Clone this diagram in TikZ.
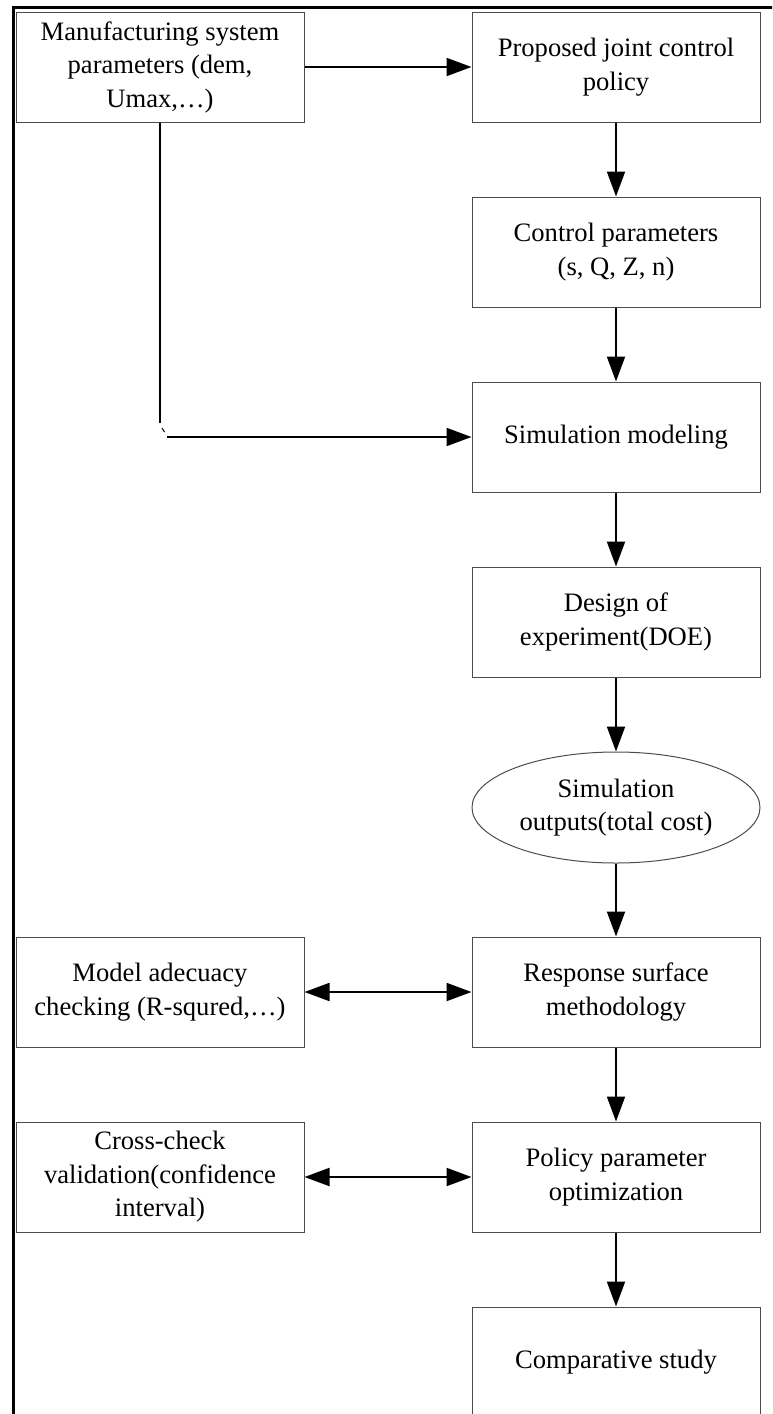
\documentclass[tikz,border=0pt]{standalone}
\usepackage{fontspec}
\setmainfont{Liberation Serif}
\usetikzlibrary{arrows.meta,shapes.geometric}

\tikzset{
  stepbox/.style={draw=black!70, line width=1pt, rectangle, align=center,
    minimum width=288pt, minimum height=110pt, inner sep=0pt,
    font=\fontsize{26.6}{33.5}\selectfont},
  outbox/.style={stepbox, ellipse, minimum height=111pt},
  flow/.style={line width=2pt, -{Triangle[length=25pt,width=18pt]}},
  twoway/.style={line width=2pt, {Triangle[length=25pt,width=18pt]}-{Triangle[length=25pt,width=18pt]}},
  frameline/.style={line width=2.6pt}
}

\begin{document}
\begin{tikzpicture}[x=1pt,y=-1pt]
  \useasboundingbox (0,0) rectangle (772,1414);
  \clip (0,0) rectangle (772,1414);

  % page frame (top and left rules)
  \draw[frameline] (13.5,1420) -- (13.5,7.5) -- (780,7.5);

  % right column
  \node[stepbox] (policy)  at (616,67)    {Proposed joint control\\policy};
  \node[stepbox] (ctrl)    at (616,252)   {Control parameters\\(s, Q, Z, n)};
  \node[stepbox] (simmod)  at (616,437)   {Simulation modeling};
  \node[stepbox] (doe)     at (616,622)   {Design of\\experiment(DOE)};
  \node[outbox]  (simout)  at (616,807.5) {Simulation\\outputs(total cost)};
  \node[stepbox] (rsm)     at (616,992)   {Response surface\\methodology};
  \node[stepbox] (opt)     at (616,1177)  {Policy parameter\\optimization};
  \node[stepbox] (comp)    at (616,1362)  {Comparative study};

  % left column
  \node[stepbox] (mfg)     at (160,67)    {Manufacturing system\\parameters (dem,\\Umax,…)};
  \node[stepbox] (check)   at (160,992)   {Model adecuacy\\checking (R-squred,…)};
  \node[stepbox] (valid)   at (160,1177)  {Cross-check\\validation(confidence\\interval)};

  % main flow
  \draw[flow] (mfg.east) -- (policy.west);
  \draw[flow] (policy.south) -- (ctrl.north);
  \draw[flow] (ctrl.south) -- (simmod.north);
  \draw[flow] (simmod.south) -- (doe.north);
  \draw[flow] (doe.south) -- (simout.north);
  \draw[flow] (simout.south) -- (rsm.north);
  \draw[flow] (rsm.south) -- (opt.north);
  \draw[flow] (opt.south) -- (comp.north);

  % system parameters feeding the simulation model (broken elbow)
  \coordinate (drop)  at (160,423);
  \coordinate (tickA) at (162,428);
  \coordinate (tickB) at (164.5,432);
  \coordinate (feed)  at (167,437);
  \draw[line width=2pt] (mfg.south) -- (drop);
  \draw[line width=1pt] (tickA) -- (tickB);
  \draw[flow] (feed) -- (simmod.west);

  % two-way checks
  \draw[twoway] (check.east) -- (rsm.west);
  \draw[twoway] (valid.east) -- (opt.west);
\end{tikzpicture}
\end{document}
